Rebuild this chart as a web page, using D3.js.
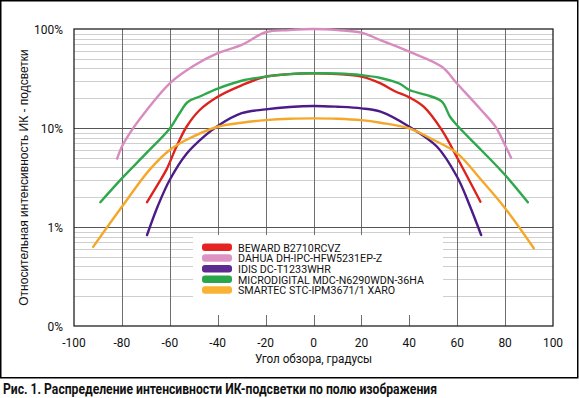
<!DOCTYPE html>
<head>
  <meta charset="utf-8">
  <script src="https://d3js.org/d3.v7.min.js"></script>
  <style>
    body{ margin:0; background:#fff; }
    text{ font-family: "Roboto", "Liberation Sans", sans-serif; fill:#111; }
    text.tick{ font-size:13px; }
    text.ytitle{ font-family: "Liberation Sans", Arial, sans-serif; font-size:12px; }
    text.xtitle{ font-size:13px; }
    text.legend{ font-size:11.5px; }
    text.caption{ font-size:14px; font-weight:700; }
  </style>
</head>
<body>
<script>
// series: angle (deg) and relative IR intensity (%)
const names = ["BEWARD B2710RCVZ", "DAHUA DH-IPC-HFW5231EP-Z", "IDIS DC-T1233WHR",
               "MICRODIGITAL MDC-N6290WDN-36HA", "SMARTEC STC-IPM3671/1 XARO"];
const colors = ["#dc231d", "#d88bbf", "#4b1c87", "#2ea84b", "#f4a82a"];
const legendColors = ["#e52421", "#dc92c3", "#5d2a91", "#2aa64a", "#f9b233"];

const bewardAng = [-69.5, -65, -61.4, -57.2, -53, -47.5, -40, -30, -20, -10, 0, 10, 20, 28, 34, 40, 46, 53.6, 60.5, 69.7];
const bewardVal = [1.78, 2.7, 3.8, 6.5, 10.3, 15.2, 20.7, 27, 33, 35, 35.7, 35, 33, 28.2, 23.5, 20.4, 16.4, 9.5, 4.75, 1.8];

const dahuaAng = [-82, -80, -75, -70, -60, -50, -40, -30, -20, -10, 0, 10, 20, 28, 40, 53.6, 60, 70, 76, 80, 82.5];
const dahuaVal = [4.9, 6.5, 10.2, 14.8, 28.3, 42.5, 57, 69, 92.7, 97.5, 100, 97.5, 92, 77, 59, 41.5, 28, 15.2, 10.3, 6.7, 5.0];

const idisAng = [-69.5, -65, -60, -53, -46, -40, -30, -20, -10, 0, 10, 20, 28, 40, 51.5, 60, 65, 70];
const idisVal = [0.83, 1.63, 3.0, 5.5, 8.1, 10.5, 14.1, 15.4, 16.3, 16.7, 16.4, 15.8, 14.6, 10.3, 6.5, 3.2, 1.7, 0.83];

const microAng = [-89, -80, -70, -60, -56, -52.5, -47.5, -40, -30, -20, -10, 0, 10, 20, 28, 36, 40, 47, 53.6, 57, 60.5, 70, 80, 89.5];
const microVal = [1.78, 3.1, 5.5, 9.9, 14, 18.3, 20.8, 25, 30, 33, 35, 35.7, 35.5, 34.2, 32, 28, 24.2, 21.6, 18.5, 13, 10.3, 6.0, 3.35, 1.78];

const smartecAng = [-92, -80, -68.4, -60, -53, -40, -30, -20, -10, 0, 10, 20, 28, 40, 50, 60, 70, 80, 92];
const smartecVal = [0.63, 1.6, 3.8, 6.0, 7.6, 10.3, 11.3, 12, 12.4, 12.5, 12.4, 12, 11.3, 9.9, 7.6, 5.55, 3.0, 1.55, 0.61];

const xTicks = [-100, -80, -60, -40, -20, 0, 20, 40, 60, 80, 100];
const yTicks = [0.1, 1, 10, 100];
const yTickLabels = ["0%", "1%", "10%", "100%"];

const series = [
  [bewardAng, bewardVal], [dahuaAng, dahuaVal], [idisAng, idisVal],
  [microAng, microVal], [smartecAng, smartecVal]
].map((s, i) => ({ name: names[i], color: colors[i], pts: s[0].map((a, j) => [a, s[1][j]]) }));

const width = 579, height = 398;
const plot = { left: 74, right: 553, top: 29, bottom: 326 };

const svg = d3.select("body").append("svg")
  .attr("width", width)
  .attr("height", height);

// outer frame
svg.append("rect")
  .attr("x", 0.75).attr("y", 0.75)
  .attr("width", 577).attr("height", 377)
  .attr("fill", "none").attr("stroke", "#000").attr("stroke-width", 1.5);

let x = d3.scaleLinear().domain([-100, 100]).range([plot.left, plot.right]);
let y = d3.scaleLog().domain([0.1, 100]).range([plot.bottom, plot.top]);

// minor horizontal grid
let minor = y.ticks().filter(v => yTicks.indexOf(v) < 0);
svg.selectAll("line.minor")
  .data(minor)
  .enter().append("line")
  .attr("class", "minor")
  .attr("x1", plot.left).attr("x2", plot.right)
  .attr("y1", d => Math.round(y(d)) + 0.5).attr("y2", d => Math.round(y(d)) + 0.5)
  .attr("stroke", "#cfcfcf").attr("stroke-width", 1);

// vertical grid
svg.selectAll("line.vgrid")
  .data(xTicks.slice(1, -1))
  .enter().append("line")
  .attr("class", "vgrid")
  .attr("x1", d => Math.round(x(d)) + 0.5).attr("x2", d => Math.round(x(d)) + 0.5)
  .attr("y1", plot.top).attr("y2", plot.bottom)
  .attr("stroke", "#6e6e6e").attr("stroke-width", 1);

// major horizontal grid
svg.selectAll("line.major")
  .data([1, 10])
  .enter().append("line")
  .attr("class", "major")
  .attr("x1", plot.left).attr("x2", plot.right)
  .attr("y1", d => Math.round(y(d)) + 0.5).attr("y2", d => Math.round(y(d)) + 0.5)
  .attr("stroke", "#555").attr("stroke-width", 1.2);

// legend background hides the grid
svg.append("rect")
  .attr("x", 193).attr("y", 235)
  .attr("width", 250).attr("height", 80)
  .attr("fill", "#fff");

// plot frame
svg.append("rect")
  .attr("x", plot.left).attr("y", plot.top)
  .attr("width", plot.right - plot.left).attr("height", plot.bottom - plot.top)
  .attr("fill", "none").attr("stroke", "#222").attr("stroke-width", 1.3);

// curves
let line = d3.line()
  .x(d => x(d[0]))
  .y(d => y(d[1]))
  .curve(d3.curveCatmullRom.alpha(0.5));

svg.selectAll("path.curve")
  .data(series)
  .enter().append("path")
  .attr("class", "curve")
  .attr("d", d => line(d.pts))
  .attr("fill", "none")
  .attr("stroke", d => d.color)
  .attr("stroke-width", 2.4)
  .attr("stroke-linecap", "round");

// y tick labels
svg.selectAll("text.ylab")
  .data(yTicks)
  .enter().append("text")
  .attr("class", "tick ylab")
  .attr("transform", d => `translate(63, ${y(d) + 4.5}) scale(0.92, 1)`)
  .style("text-anchor", "end")
  .text((d, i) => yTickLabels[i]);

// x tick labels
svg.selectAll("text.xlab")
  .data(xTicks)
  .enter().append("text")
  .attr("class", "tick xlab")
  .attr("transform", d => `translate(${x(d)}, 347) scale(0.92, 1)`)
  .style("text-anchor", "middle")
  .text(d => d);

// axis titles
svg.append("text")
  .attr("class", "xtitle")
  .attr("transform", `translate(${x(0)}, 363) scale(0.9, 1)`)
  .style("text-anchor", "middle")
  .text("Угол обзора, градусы");

svg.append("text")
  .attr("class", "ytitle")
  .attr("transform", `translate(28, ${(plot.top + plot.bottom) / 2}) rotate(-90)`)
  .style("text-anchor", "middle")
  .text("Относительная интенсивность ИК - подсветки");

// legend
let lg = svg.selectAll("g.legend")
  .data(series)
  .enter().append("g")
  .attr("class", "legend")
  .attr("transform", (d, i) => `translate(202, ${243.5 + i * 10.7})`);

lg.append("rect")
  .attr("width", 30).attr("height", 7.5)
  .attr("rx", 3).attr("ry", 3)
  .attr("fill", (d, i) => legendColors[i]);

lg.append("text")
  .attr("class", "legend")
  .attr("transform", "translate(36, 8) scale(0.93, 1)")
  .text(d => d.name);

// caption
svg.append("text")
  .attr("class", "caption")
  .attr("x", 3)
  .attr("y", 394)
  .attr("textLength", 434)
  .attr("lengthAdjust", "spacingAndGlyphs")
  .text("Рис. 1. Распределение интенсивности ИК-подсветки по полю изображения");
</script>
</body>
